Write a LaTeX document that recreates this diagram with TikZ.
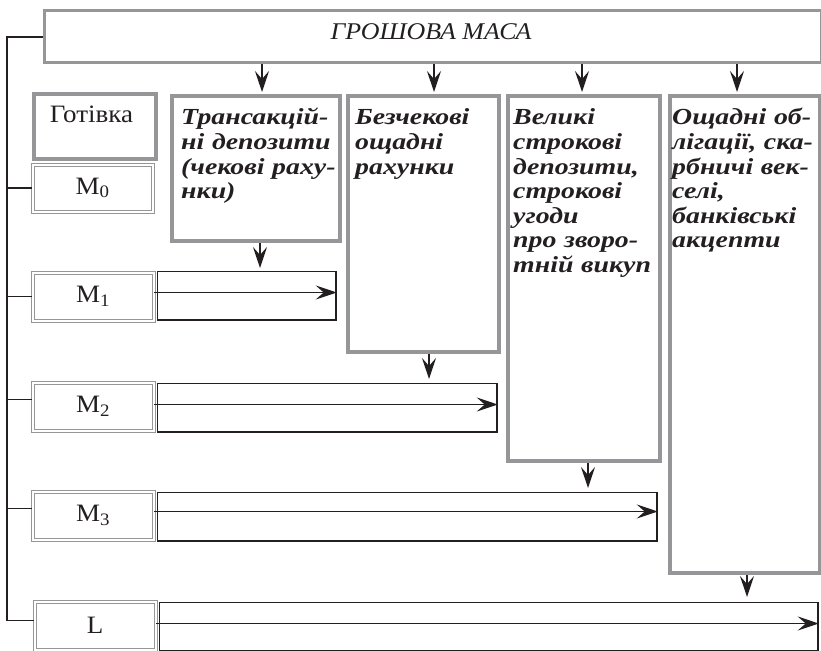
\documentclass[tikz,border=0pt]{standalone}
\usepackage{fontspec}
\setmainfont{Liberation Serif}[FakeStretch=1.08]
\newfontfamily\bifont{Liberation Serif}[FakeStretch=1.21]
\usetikzlibrary{arrows.meta,calc}
\definecolor{bgray}{RGB}{150,150,152}
\definecolor{lgray}{RGB}{150,150,152}
\definecolor{ink}{RGB}{35,31,32}
\newcommand{\JLine}[1]{\makebox[\linewidth][s]{#1}}
\newcommand{\PLine}[1]{\mbox{#1}}
\begin{document}
\begin{tikzpicture}[x=1pt,y=-1pt,
  graybox/.style={draw=bgray, line width=4pt, inner sep=0pt, anchor=north west},
  mbox/.style={draw=lgray, double=white, double distance=2pt, line width=1pt, inner sep=0pt, anchor=north west, font=\fontsize{25}{27}\selectfont, text=ink},
  rbox/.style={draw=ink, line width=1.5pt, inner sep=0pt, anchor=north west},
  btxt/.style={anchor=north west, inner sep=0pt, align=left, text=ink, font=\bifont\bfseries\itshape\fontsize{23}{24.6}\selectfont},
  arr/.style={draw=ink, line width=1.3pt, -{Stealth[length=21pt,width=14pt,inset=8pt]}},
  conn/.style={draw=ink, line width=1.6pt},
]
\useasboundingbox (0,0) rectangle (821,650);

% top box
\node[graybox, line width=3pt, minimum width=777pt, minimum height=52pt] (top) at (42.5,9.5) {};
\node[anchor=base, inner sep=0pt, text=ink, font=\itshape\fontsize{24}{28}\selectfont] (toptxt) at (431,39.5) {ГРОШОВА МАСА};

% cash
\node[graybox, minimum width=122pt, minimum height=65pt] (cash) at (32,92) {};
\node[anchor=base, inner sep=0pt, text=ink, font=\fontsize{25}{27}\selectfont] (cashtxt) at (91.5,122) {Готівка};

% category boxes
\node[graybox, minimum width=168pt, minimum height=145pt] (trans) at (170,94) {};
\node[graybox, minimum width=151pt, minimum height=256pt] (bez) at (346,94) {};
\node[graybox, minimum width=152pt, minimum height=365pt] (vel) at (506,94) {};
\node[graybox, minimum width=150pt, minimum height=477pt] (osh) at (668,94) {};

\node[btxt, text width=148pt] (transtxt) at (181,107.5) {\strut\PLine{Трансакцій-}\\\JLine{ні депозити}\\\JLine{(чекові раху-}\\\PLine{нки)}};
\node[btxt, text width=138pt] (beztxt) at (355,107.5) {\strut\PLine{Безчекові}\\\PLine{ощадні}\\\PLine{рахунки}};
\node[btxt, text width=143pt] (veltxt) at (513,107.5) {\strut\PLine{Великі}\\\PLine{строкові}\\\PLine{депозити,}\\\PLine{строкові}\\\PLine{угоди}\\\JLine{про зворо-}\\\PLine{тній викуп}};
\node[btxt, text width=145pt] (oshtxt) at (672,107.5) {\strut\JLine{Ощадні об-}\\\JLine{лігації, ска-}\\\JLine{рбничі век-}\\\PLine{селі,}\\\PLine{банківські}\\\PLine{акцепти}};

% M boxes
\node[mbox, minimum width=120pt, minimum height=47pt] (m0) at (32,164) {M\textsubscript{0}};
\node[mbox, minimum width=121pt, minimum height=48pt] (m1) at (32,272) {M\textsubscript{1}};
\node[mbox, minimum width=121pt, minimum height=48pt] (m2) at (32,382) {M\textsubscript{2}};
\node[mbox, minimum width=121pt, minimum height=48pt] (m3) at (32,491) {M\textsubscript{3}};
\node[mbox, minimum width=121pt, minimum height=48pt] (ml) at (34,601) {L};

% row rectangles
\node[rbox, minimum width=178.5pt, minimum height=48.5pt] (r1) at (156.75,270.75) {};
\node[rbox, minimum width=339.5pt, minimum height=48.5pt] (r2) at (156.75,382.75) {};
\node[rbox, minimum width=499.5pt, minimum height=48.5pt] (r3) at (156.75,491.75) {};
\node[rbox, minimum width=658.5pt, minimum height=48.5pt] (r4) at (158.75,601.75) {};

% left bus
\draw[conn] (top.west) -- ++(-35.5,0) coordinate (bus) |- ([yshift=5pt]ml.west);
\draw[conn] (m0.west) -- (m0.west -| bus);
\draw[conn] (m1.west) -- (m1.west -| bus);
\draw[conn] ([yshift=7pt]m2.west) -- ([yshift=7pt]m2.west -| bus);
\draw[conn] ([yshift=7pt]m3.west) -- ([yshift=7pt]m3.west -| bus);

% horizontal arrows
\draw[arr] ([yshift=4pt]m1.east) -- ([yshift=4pt]m1.east -| r1.east);
\draw[arr] ([yshift=2pt]m2.east) -- ([yshift=2pt]m2.east -| r2.east);
\draw[arr] ([yshift=4pt]m3.east) -- ([yshift=4pt]m3.east -| r3.east);
\draw[arr] ([yshift=2pt]ml.east) -- ([yshift=2pt]ml.east -| r4.east);

% arrows from top box
\draw[arr] ([xshift=6pt]trans.north |- top.south) -- ([xshift=6pt,yshift=2pt]trans.north);
\draw[arr] ([xshift=10.5pt]bez.north |- top.south) -- ([xshift=10.5pt,yshift=2pt]bez.north);
\draw[arr] ([xshift=-2pt]vel.north |- top.south) -- ([xshift=-2pt,yshift=2pt]vel.north);
\draw[arr] ([xshift=-8pt]osh.north |- top.south) -- ([xshift=-8pt,yshift=2pt]osh.north);

% arrows from category boxes to rows
\draw[arr] ([xshift=4pt]trans.south) -- ([xshift=4pt,yshift=2.75pt]trans.south |- r1.north);
\draw[arr] ([xshift=5.5pt]bez.south) -- ([xshift=5.5pt,yshift=3.75pt]bez.south |- r2.north);
\draw[arr] ([xshift=4pt]vel.south) -- ([xshift=4pt,yshift=3.75pt]vel.south |- r3.north);
\draw[arr] ([xshift=2pt]osh.south) -- ([xshift=2pt,yshift=4.75pt]osh.south |- r4.north);
\end{tikzpicture}
\end{document}
